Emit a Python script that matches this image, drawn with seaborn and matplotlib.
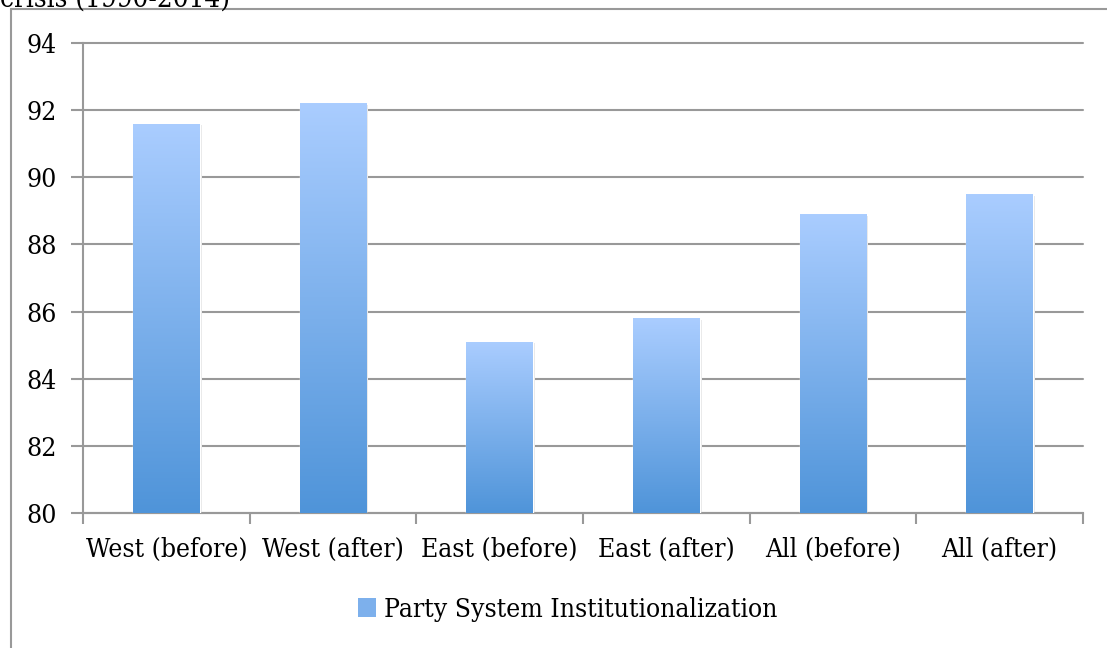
import matplotlib as mpl
mpl.use("Agg")
import matplotlib.pyplot as plt
import numpy as np
import pandas as pd
import seaborn as sns
from matplotlib.colors import LinearSegmentedColormap
from matplotlib.lines import Line2D
from matplotlib.patches import Patch

categories = ["West (before)", "West (after)", "East (before)",
              "East (after)", "All (before)", "All (after)"]
values = [91.6, 92.2, 85.1, 85.8, 88.9, 89.5]
yticks = [80, 82, 84, 86, 88, 90, 92, 94]
series_name = "Party System Institutionalization"
cut_title = "crisis (1990-2014)"

sns.set_theme(style="white")
plt.rcParams["font.family"] = ["DejaVu Serif"]
plt.rcParams["font.stretch"] = "condensed"
plt.rcParams["font.size"] = 19
plt.rcParams["text.color"] = "black"

df = pd.DataFrame({"group": categories, "value": values})

fig = plt.figure(figsize=(11.07, 6.48), dpi=100)
ax = fig.add_axes([83 / 1107, 1 - 513 / 648, 1000 / 1107, 470 / 648])

sns.barplot(data=df, x="group", y="value", color="#7DB0EC", width=0.4,
            ax=ax, zorder=3)

YMIN, YMAX = 80, 94

# gradient fill inside each bar, with a faint shadow on the right
grad = LinearSegmentedColormap.from_list("bar", ["#4F94D9", "#AACDFF"])
for p in list(ax.patches):
    x0, y0 = p.get_x(), p.get_y()
    w, h = p.get_width(), p.get_height()
    top = y0 + h
    sh = plt.Rectangle((x0 + w, YMIN), 0.012, top - YMIN - 0.05,
                       color="0.9", zorder=2, lw=0)
    ax.add_patch(sh)
    img = ax.imshow(np.linspace(0, 1, 256).reshape(-1, 1), cmap=grad,
                    origin="lower", aspect="auto",
                    extent=[x0, x0 + w, YMIN, top], zorder=4)
    img.set_clip_path(p)
ax.set_xlim(-0.5, len(categories) - 0.5)
ax.set_ylim(YMIN, YMAX)
ax.set_yticks(yticks)
ax.set_xlabel("")
ax.set_ylabel("")

ax.grid(axis="y", color="#999999", lw=1.5, zorder=0)
for gl in ax.get_ygridlines():
    gl.set_clip_on(False)
ax.set_axisbelow(True)
for s in ["top", "right"]:
    ax.spines[s].set_visible(False)
for s in ["left", "bottom"]:
    ax.spines[s].set_color("#999999")
    ax.spines[s].set_linewidth(1.5)

ax.tick_params(axis="y", length=9, width=1.5, color="#999999", pad=10,
               labelsize=19, left=True, labelcolor="black")
ax.tick_params(axis="x", length=0, pad=17, labelsize=19, labelcolor="black")
ax.set_xticks(np.arange(-0.5, len(categories), 1.0), minor=True)
ax.tick_params(axis="x", which="minor", length=8, width=1.5,
               color="#999999", bottom=True)

fig.legend(handles=[Patch(facecolor="#7DB0EC", edgecolor="none")],
           labels=[series_name], loc="center", bbox_to_anchor=(0.513, 0.06),
           frameon=False, fontsize=19, handlelength=0.7, handleheight=0.7,
           handletextpad=0.3)

# outer chart frame (partially visible)
fig.add_artist(Line2D([11 / 1107, 11 / 1107], [0, 1 - 9 / 648],
                      transform=fig.transFigure, color="#999999", lw=1.5))
fig.add_artist(Line2D([11 / 1107, 1], [1 - 9 / 648, 1 - 9 / 648],
                      transform=fig.transFigure, color="#999999", lw=1.5))

fig.text(0.0, 1 - 7 / 648, cut_title, ha="left", va="baseline", fontsize=20)

fig.savefig("out.png", dpi=100)
